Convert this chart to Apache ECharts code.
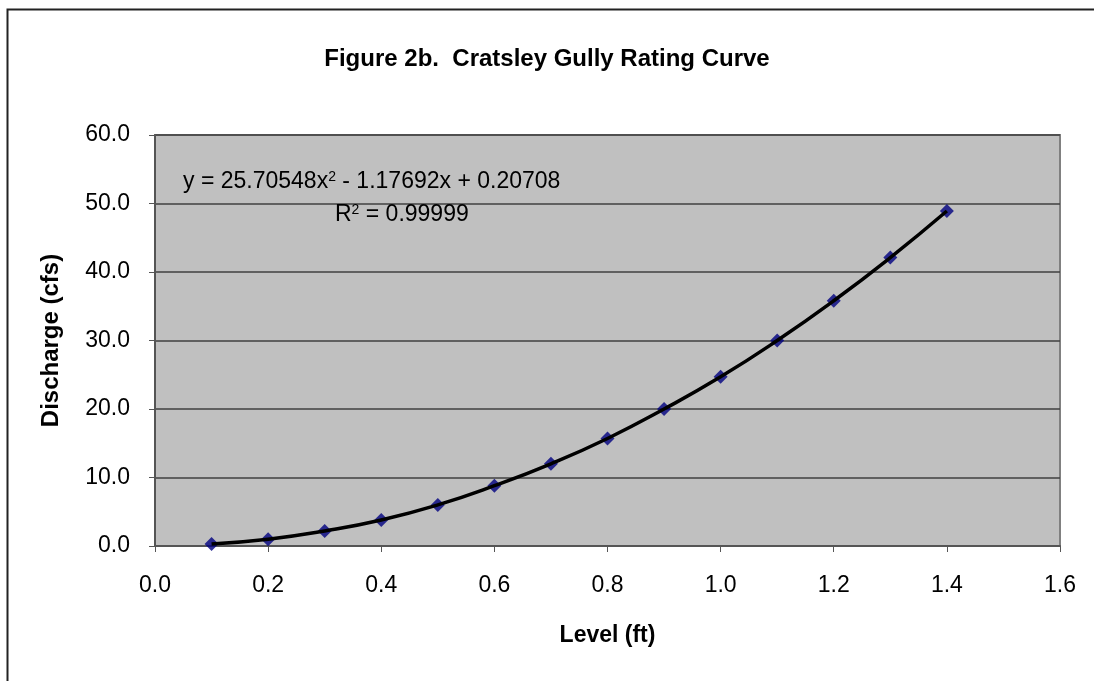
<!DOCTYPE html>
<html>
<head>
<meta charset="utf-8">
<script src="https://cdn.jsdelivr.net/npm/echarts@6/dist/echarts.min.js"></script>
<style>
  html, body { margin: 0; padding: 0; background: #fff; }
  #myChart { width: 1094px; height: 681px; }
</style>
</head>
<body>
<div id="myChart"></div>
<script>
// level (ft) and measured discharge (cfs)
const levels = [0.1, 0.2, 0.3, 0.4, 0.5, 0.6, 0.7, 0.8, 0.9, 1.0, 1.1, 1.2, 1.3, 1.4];
const discharge = [0.3, 1.0, 2.2, 3.8, 6.0, 8.8, 12.0, 15.7, 20.0, 24.7, 30.0, 35.8, 42.1, 48.9];
const equationText = 'y = 25.70548x{sup|2} - 1.17692x + 0.20708';
const r2Text = 'R{sup|2} = 0.99999';

const points = levels.map((x, i) => [x, discharge[i]]);
const font = '"Liberation Sans", Arial, sans-serif';
const supStyle = { fontSize: 14, verticalAlign: 'top', padding: [0, 0, 10, 0], fontFamily: font };

let myChart = echarts.init(document.getElementById('myChart'));
myChart.setOption({
    backgroundColor: '#ffffff',
    animation: false,
    title: {
        text: 'Figure 2b.  Cratsley Gully Rating Curve',
        left: 'center',
        top: 42,
        textStyle: { fontFamily: font, fontSize: 24, fontWeight: 'bold', color: '#000' }
    },
    grid: {
        left: 155,
        top: 135,
        width: 905,
        height: 411,
        show: true,
        backgroundColor: '#c0c0c0',
        borderColor: '#808080',
        borderWidth: 2
    },
    xAxis: {
        type: 'value',
        min: 0,
        max: 1.6,
        interval: 0.2,
        name: 'Level (ft)',
        nameLocation: 'middle',
        nameGap: 78,
        nameTextStyle: { fontFamily: font, fontSize: 23, fontWeight: 'bold', color: '#000' },
        axisLine: { lineStyle: { color: '#555', width: 2 } },
        axisTick: { show: true, inside: false, length: 6, lineStyle: { color: '#555' } },
        axisLabel: {
            fontFamily: font, fontSize: 23, color: '#000', margin: 28,
            formatter: v => v.toFixed(1)
        },
        splitLine: { show: false }
    },
    yAxis: {
        type: 'value',
        min: 0,
        max: 60,
        interval: 10,
        name: 'Discharge (cfs)',
        nameLocation: 'middle',
        nameRotate: 90,
        nameGap: 92,
        nameTextStyle: { fontFamily: font, fontSize: 24, fontWeight: 'bold', color: '#000' },
        axisLine: { show: true, lineStyle: { color: '#555', width: 2 } },
        axisTick: { show: true, inside: false, length: 6, lineStyle: { color: '#555' } },
        axisLabel: {
            fontFamily: font, fontSize: 23, color: '#000', margin: 25,
            formatter: v => v.toFixed(1)
        },
        splitLine: { show: true, lineStyle: { color: '#404040', width: 1.5 } }
    },
    graphic: [
        {
            type: 'rect',
            left: 5, top: 7,
            shape: { width: 1110, height: 700 },
            style: { fill: 'none', stroke: '#222', lineWidth: 2 },
            silent: true, z: -1
        },
        {
            type: 'text',
            left: 183, top: 170,
            style: {
                text: equationText,
                fontFamily: font, fontSize: 23, fill: '#000',
                rich: { sup: supStyle }
            },
            z: 10
        },
        {
            type: 'text',
            left: 335, top: 203,
            style: {
                text: r2Text,
                fontFamily: font, fontSize: 23, fill: '#000',
                rich: { sup: supStyle }
            },
            z: 10
        }
    ],
    series: [
        {
            name: 'Trend',
            type: 'line',
            data: points,
            smooth: true,
            showSymbol: false,
            lineStyle: { color: '#000', width: 3.5 },
            z: 2
        },
        {
            name: 'Discharge',
            type: 'scatter',
            data: points,
            symbol: 'diamond',
            symbolSize: 14,
            itemStyle: { color: '#000080' },
            z: 1
        }
    ]
});
</script>
</body>
</html>
